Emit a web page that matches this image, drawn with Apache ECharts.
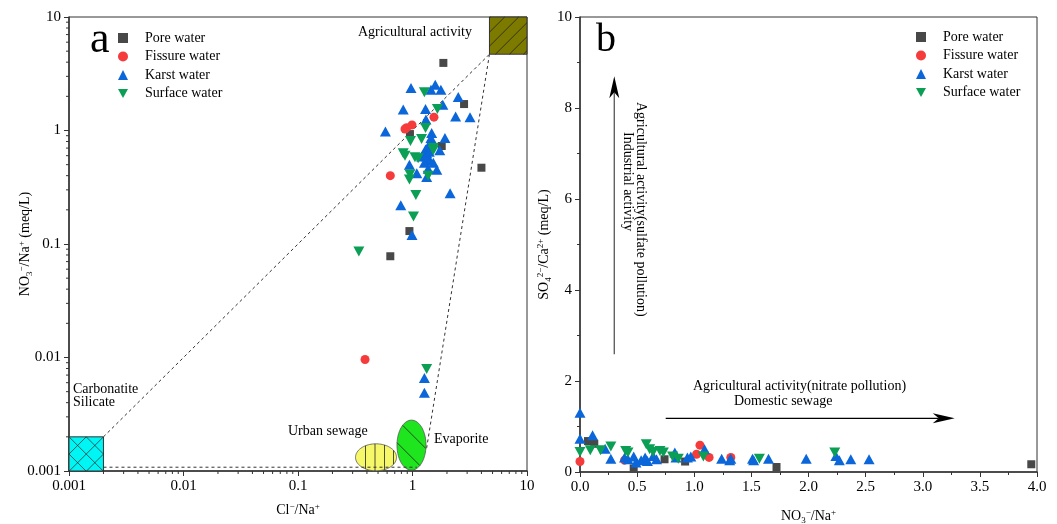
<!DOCTYPE html>
<html><head><meta charset="utf-8">
<script src="https://cdn.jsdelivr.net/npm/echarts@6/dist/echarts.min.js"></script>
<style>html,body{margin:0;padding:0;background:#fff}#c{width:1057px;height:524px}</style>
</head><body><div id="c"></div>
<script>
// ---------- DATA ----------
const seriesNames = ['Pore water', 'Fissure water', 'Karst water', 'Surface water'];
// Panel a: [Cl-/Na+, NO3-/Na+]
const poreA = [[1.86,3.94],[2.82,1.71],[0.95,0.93],[1.80,0.73],[4.0,0.47],[0.94,0.13],[0.64,0.078]];
const fissureA = [[1.54,1.31],[0.99,1.12],[0.89,1.06],[0.86,1.03],[0.64,0.40],[0.385,0.0096]];
const karstA = [[0.97,2.37],[1.58,2.53],[1.45,2.29],[1.77,2.29],[2.51,1.97],[1.84,1.69],[0.83,1.53],[1.30,1.55],[2.38,1.33],[3.18,1.31],[1.31,1.25],[0.58,0.98],[1.47,0.95],[1.92,0.86],[1.45,0.86],[1.73,0.67],[1.33,0.63],[1.41,0.55],[1.27,0.52],[1.52,0.52],[1.37,0.46],[1.20,0.59],[1.33,0.59],[1.30,0.68],[1.36,0.72],[1.25,0.62],[1.40,0.65],[0.94,0.50],[1.09,0.42],[1.63,0.45],[1.33,0.39],[2.13,0.28],[0.79,0.22],[0.99,0.12],[1.27,0.0066],[1.27,0.0049]];
const surfaceA = [[1.27,2.17],[1.65,1.55],[1.30,1.05],[0.96,0.81],[1.20,0.84],[1.52,0.70],[1.52,0.67],[0.83,0.63],[0.86,0.60],[1.05,0.58],[1.12,0.57],[0.95,0.41],[0.94,0.37],[1.37,0.40],[1.07,0.27],[1.02,0.175],[0.34,0.086],[1.33,0.0079]];
// Panel b: [NO3-/Na+, SO4 2-/Ca 2+]
const poreB = [[0.07,0.68],[0.125,0.62],[0.47,0.08],[0.74,0.28],[0.92,0.23],[1.72,0.11],[3.95,0.17]];
const fissureB = [[0.0,0.23],[0.39,0.26],[1.02,0.39],[1.05,0.59],[1.13,0.32],[1.32,0.32]];
const karstB = [[0,1.30],[0,0.73],[0.11,0.81],[0.22,0.51],[0.27,0.29],[0.39,0.32],[0.42,0.28],[0.47,0.34],[0.49,0.21],[0.535,0.26],[0.57,0.32],[0.59,0.24],[0.64,0.35],[0.67,0.28],[0.83,0.43],[0.84,0.32],[0.94,0.32],[0.97,0.34],[1.09,0.50],[1.24,0.29],[1.31,0.26],[1.32,0.29],[1.51,0.29],[1.52,0.26],[1.65,0.29],[1.98,0.29],[2.24,0.35],[2.27,0.26],[2.37,0.28],[2.53,0.28]];
const surfaceB = [[0,0.44],[0.09,0.48],[0.18,0.48],[0.27,0.56],[0.40,0.46],[0.42,0.43],[0.58,0.61],[0.61,0.50],[0.64,0.44],[0.70,0.46],[0.73,0.43],[0.81,0.34],[0.86,0.29],[1.08,0.34],[1.57,0.29],[2.23,0.43]];
// Panel a end-member regions and mixing lines (data coordinates)
const agriBox = [4.7, 4.7, 10, 10];
const carbBox = [0.001, 0.001, 0.002, 0.002];
const sewageCenter = [0.48, 0.00132];
const evaporiteCenter = [0.98, 0.00169];
const mixLine1 = [[0.002,0.002],[4.7,4.7]];
const mixLine2 = [[4.7,4.7],[1.33,0.0016]];
const mixLine3 = [[0.002,0.00108],[1.09,0.00108]];
// Panel b arrows
const arrowUp = [[0.30,2.59],[0.30,8.70]];
const arrowRight = [[0.75,1.18],[3.28,1.18]];
// Axes
const logMin = 0.001, logMax = 10;
const logMinorTicks = [];
[0.001,0.01,0.1,1].forEach(d => { for (let m = 2; m <= 9; m++) logMinorTicks.push(+(d*m).toPrecision(3)); });

// ---------- STYLE ----------
const FONT = 'Liberation Serif';
const colors = ['#484848', '#f53b3b', '#0a66d9', '#0b9e55'];
const downTri = 'path://M0,0L10,0L5,9Z';
const symbols = ['rect', 'circle', 'triangle', downTri];
const symSizes = [8, 9, [11,10], [11,10]];
const AX = '#333';

function lbClip(x0, y0, dx, dy, xmin, ymin, xmax, ymax) {
  let t0 = -1e6, t1 = 1e6;
  const p = [-dx, dx, -dy, dy], q = [x0 - xmin, xmax - x0, y0 - ymin, ymax - y0];
  for (let i = 0; i < 4; i++) {
    if (p[i] === 0) { if (q[i] < 0) return null; }
    else { const r = q[i] / p[i]; if (p[i] < 0) { if (r > t1) return null; if (r > t0) t0 = r; } else { if (r < t0) return null; if (r < t1) t1 = r; } }
  }
  if (t0 > t1) return null;
  return [x0 + t0*dx, y0 + t0*dy, x0 + t1*dx, y0 + t1*dy];
}
function ellipseChord(cx, cy, px, py, dx, dy, rx, ry) {
  const a = dx*dx/(rx*rx) + dy*dy/(ry*ry), b = 2*(px*dx/(rx*rx) + py*dy/(ry*ry)), c = px*px/(rx*rx) + py*py/(ry*ry) - 1;
  const disc = b*b - 4*a*c; if (disc <= 0) return null;
  const s = Math.sqrt(disc), t0 = (-b - s)/(2*a), t1 = (-b + s)/(2*a);
  return [cx + px + t0*dx, cy + py + t0*dy, cx + px + t1*dx, cy + py + t1*dy];
}
function hatchLine(seg, w) { return { type: 'line', shape: {x1: seg[0], y1: seg[1], x2: seg[2], y2: seg[3]}, style: {stroke: '#222', lineWidth: w || 0.8} }; }

function boxSeries(box, fill, hatch) {
  return { type: 'custom', xAxisIndex: 0, yAxisIndex: 0, silent: true, z: 1, clip: false,
    data: [box], encode: {x: [0,2], y: [1,3]},
    renderItem(params, api) {
      const a = api.coord([api.value(0), api.value(1)]), b = api.coord([api.value(2), api.value(3)]);
      const x0 = Math.min(a[0], b[0]), x1 = Math.max(a[0], b[0]), y0 = Math.min(a[1], b[1]), y1 = Math.max(a[1], b[1]);
      const ch = [{ type: 'rect', shape: {x: x0, y: y0, width: x1-x0, height: y1-y0}, style: {fill: fill, stroke: '#333', lineWidth: 1} }];
      const w = x1 - x0;
      if (hatch === 'cross') {
        const s = w/2;
        for (let k = -3; k <= 3; k++) {
          let seg = lbClip(x0 + k*s, y0, 1, 1, x0, y0, x1, y1); if (seg) ch.push(hatchLine(seg, 0.7));
          seg = lbClip(x0 + k*s, y0, -1, 1, x0, y0, x1, y1); if (seg) ch.push(hatchLine(seg, 0.7));
        }
      } else {
        for (let k = -6; k <= 6; k++) {
          const seg = lbClip(x0 + 6 + k*14, y1, 1, -1, x0, y0, x1, y1); if (seg) ch.push(hatchLine(seg, 0.8));
        }
      }
      return { type: 'group', children: ch };
    } };
}
function ellipseSeries(center, rx, ry, fill, hatch) {
  return { type: 'custom', xAxisIndex: 0, yAxisIndex: 0, silent: true, z: 1, clip: false,
    data: [center],
    renderItem(params, api) {
      const c = api.coord([api.value(0), api.value(1)]);
      const pts = [];
      for (let i = 0; i < 90; i++) { const t = i/90*2*Math.PI; pts.push([c[0] + rx*Math.cos(t), c[1] + ry*Math.sin(t)]); }
      const ch = [{ type: 'polygon', shape: {points: pts}, style: {fill: fill, stroke: '#555', lineWidth: 0.8} }];
      if (hatch === 'vertical') {
        [-10.5, -1, 8.5, 17.5].forEach(o => { const seg = ellipseChord(c[0], c[1], o, 0, 0, 1, rx, ry); if (seg) ch.push(hatchLine(seg, 0.8)); });
      } else {
        [-12, 11].forEach(o => { const seg = ellipseChord(c[0], c[1], o/2, -o/2, 1, 1, rx, ry); if (seg) ch.push(hatchLine(seg, 0.8)); });
      }
      return { type: 'group', children: ch };
    } };
}
function dashLine(data) {
  return { type: 'line', xAxisIndex: 0, yAxisIndex: 0, data: data, symbol: 'none', silent: true, z: 1,
    lineStyle: { color: '#333', width: 1, type: [3, 3] } };
}
function arrowSeries(data, color) {
  return { type: 'custom', xAxisIndex: 1, yAxisIndex: 1, silent: true, z: 1, clip: false,
    data: [[data[0][0], data[0][1], data[1][0], data[1][1]]], encode: {x: [0,2], y: [1,3]},
    renderItem(params, api) {
      const s = api.coord([api.value(0), api.value(1)]), t = api.coord([api.value(2), api.value(3)]);
      const L = Math.hypot(t[0]-s[0], t[1]-s[1]), dx = (t[0]-s[0])/L, dy = (t[1]-s[1])/L, nx = -dy, ny = dx;
      const head = [[t[0], t[1]], [t[0]-22*dx+5*nx, t[1]-22*dy+5*ny], [t[0]-16*dx, t[1]-16*dy], [t[0]-22*dx-5*nx, t[1]-22*dy-5*ny]];
      return { type: 'group', children: [
        { type: 'line', shape: {x1: s[0], y1: s[1], x2: t[0]-16*dx, y2: t[1]-16*dy}, style: {stroke: color, lineWidth: 1.3} },
        { type: 'polygon', shape: {points: head}, style: {fill: '#000'} } ] };
    } };
}
function minorTickSeries(axis) {
  return { type: 'custom', xAxisIndex: 0, yAxisIndex: 0, silent: true, z: 3, clip: false,
    data: logMinorTicks.map(v => axis === 'x' ? [v, logMin] : [logMin, v]),
    renderItem(params, api) {
      const p = api.coord([api.value(0), api.value(1)]);
      const shape = axis === 'x' ? {x1: p[0], y1: p[1], x2: p[0], y2: p[1]+3} : {x1: p[0]-3, y1: p[1], x2: p[0], y2: p[1]};
      return { type: 'line', shape: shape, style: {stroke: AX, lineWidth: 1} };
    } };
}
const rich = {
  n: { fontFamily: FONT, fontSize: 14, color: '#000', lineHeight: 17, verticalAlign: 'middle' },
  sp: { fontFamily: FONT, fontSize: 9, color: '#000', lineHeight: 9, verticalAlign: 'top' },
  sb: { fontFamily: FONT, fontSize: 9, color: '#000', lineHeight: 9, verticalAlign: 'bottom' }
};
const labelStyle = { fontFamily: FONT, fontSize: 15, color: '#000' };

function scatterSet(datasets, xi) {
  return datasets.map((d, i) => ({ type: 'scatter', name: seriesNames[i], xAxisIndex: xi, yAxisIndex: xi, data: d,
    symbol: symbols[i], symbolSize: symSizes[i], itemStyle: { color: colors[i], opacity: 1 }, z: 5 }));
}
const legendData = seriesNames.map((n, i) => ({ name: n, icon: i === 0 ? 'rect' : (i === 1 ? 'circle' : (i === 2 ? 'triangle' : downTri)) }));
function legend(left, top) {
  return { left: left, top: top, orient: 'vertical', data: legendData, itemWidth: 10, itemHeight: 10, itemGap: 4.5,
    selectedMode: false, textStyle: { fontFamily: FONT, fontSize: 14, color: '#000', lineHeight: 14, padding: [0, 0, 0, 12] } };
}
const nameCommon = { nameLocation: 'middle', nameMoveOverlap: false };

const chart = echarts.init(document.getElementById('c'), null, { renderer: 'canvas' });
chart.setOption({
  animation: false,
  backgroundColor: '#fff',
  grid: [
    { left: 69, top: 17, width: 458, height: 454, show: true, borderColor: AX, borderWidth: 1, outerBoundsMode: 'none', containLabel: false },
    { left: 580, top: 17, width: 457, height: 455, show: true, borderColor: AX, borderWidth: 1, outerBoundsMode: 'none', containLabel: false }
  ],
  xAxis: [
    Object.assign({ type: 'log', gridIndex: 0, min: logMin, max: logMax, logBase: 10, splitLine: {show: false},
      axisLine: {lineStyle: {color: AX, width: 1.5}}, axisTick: {inside: false, length: 5, lineStyle: {color: AX}},
      axisLabel: Object.assign({ margin: 8 }, labelStyle),
      name: '{n|Cl}{sp|−}{n|/Na}{sp|+}', nameGap: 31, nameTextStyle: { rich: rich } }, nameCommon),
    Object.assign({ type: 'value', gridIndex: 1, min: 0, max: 4, interval: 0.5, splitLine: {show: false},
      axisLine: {onZero: false, lineStyle: {color: AX, width: 1.5}}, axisTick: {inside: false, length: 5, lineStyle: {color: AX}},
      minorTick: {show: true, splitNumber: 2, length: 3, lineStyle: {color: AX}},
      axisLabel: Object.assign({ margin: 8, formatter: v => v.toFixed(1) }, labelStyle),
      name: '{n|NO}{sb|3}{sp|−}{n|/Na}{sp|+}', nameGap: 36, nameTextStyle: { rich: rich } }, nameCommon)
  ],
  yAxis: [
    Object.assign({ type: 'log', gridIndex: 0, min: logMin, max: logMax, logBase: 10, splitLine: {show: false},
      axisLine: {lineStyle: {color: AX, width: 1.5}}, axisTick: {inside: false, length: 5, lineStyle: {color: AX}},
      axisLabel: Object.assign({ margin: 8 }, labelStyle),
      name: '{n|NO}{sb|3}{sp|−}{n|/Na}{sp|+}{n| (meq/L)}', nameGap: 35, nameTextStyle: { rich: rich } }, nameCommon),
    Object.assign({ type: 'value', gridIndex: 1, min: 0, max: 10, interval: 2, splitLine: {show: false},
      axisLine: {onZero: false, lineStyle: {color: AX, width: 1.5}}, axisTick: {inside: false, length: 5, lineStyle: {color: AX}},
      minorTick: {show: true, splitNumber: 2, length: 3, lineStyle: {color: AX}},
      axisLabel: Object.assign({ margin: 8 }, labelStyle),
      name: '{n|SO}{sb|4}{sp|2−}{n|/Ca}{sp|2+}{n| (meq/L)}', nameGap: 27, nameTextStyle: { rich: rich } }, nameCommon)
  ],
  legend: [ legend(113, 26), legend(911, 25) ],
  series: [
    boxSeries(agriBox, '#7d7a00', 'diag'),
    boxSeries(carbBox, '#00f5f5', 'cross'),
    ellipseSeries(sewageCenter, 20.5, 13.5, '#f7f76a', 'vertical'),
    ellipseSeries(evaporiteCenter, 14.5, 25, '#1ee51e', 'diag'),
    dashLine(mixLine1), dashLine(mixLine2), dashLine(mixLine3),
    minorTickSeries('x'), minorTickSeries('y'),
    arrowSeries(arrowUp, '#555'), arrowSeries(arrowRight, '#000')
  ].concat(scatterSet([poreA, fissureA, karstA, surfaceA], 0), scatterSet([poreB, fissureB, karstB, surfaceB], 1)),
  graphic: [
    { type: 'text', left: 90, top: 18, style: { text: 'a', font: '44px "Liberation Serif"', fill: '#000' } },
    { type: 'text', left: 596, top: 20, style: { text: 'b', font: '40px "Liberation Serif"', fill: '#000' } },
    { type: 'text', left: 358, top: 25, style: { text: 'Agricultural activity', font: '14px "Liberation Serif"', fill: '#000' } },
    { type: 'text', left: 73, top: 382, style: { text: 'Carbonatite', font: '14px "Liberation Serif"', fill: '#000' } },
    { type: 'text', left: 73, top: 395, style: { text: 'Silicate', font: '14px "Liberation Serif"', fill: '#000' } },
    { type: 'text', left: 288, top: 424, style: { text: 'Urban sewage', font: '14px "Liberation Serif"', fill: '#000' } },
    { type: 'text', left: 434, top: 432, style: { text: 'Evaporite', font: '14px "Liberation Serif"', fill: '#000' } },
    { type: 'text', left: 693, top: 379, style: { text: 'Agricultural activity(nitrate pollution)', font: '14px "Liberation Serif"', fill: '#000' } },
    { type: 'text', left: 734, top: 394, style: { text: 'Domestic sewage', font: '14px "Liberation Serif"', fill: '#000' } },
    { type: 'text', x: 648, y: 102, rotation: -Math.PI/2, style: { text: 'Agricultural activity(sulfate pollution)', font: '14px "Liberation Serif"', fill: '#000' } },
    { type: 'text', x: 635, y: 132, rotation: -Math.PI/2, style: { text: 'Industrial activity', font: '14px "Liberation Serif"', fill: '#000' } }
  ]
});
</script>
</body></html>
